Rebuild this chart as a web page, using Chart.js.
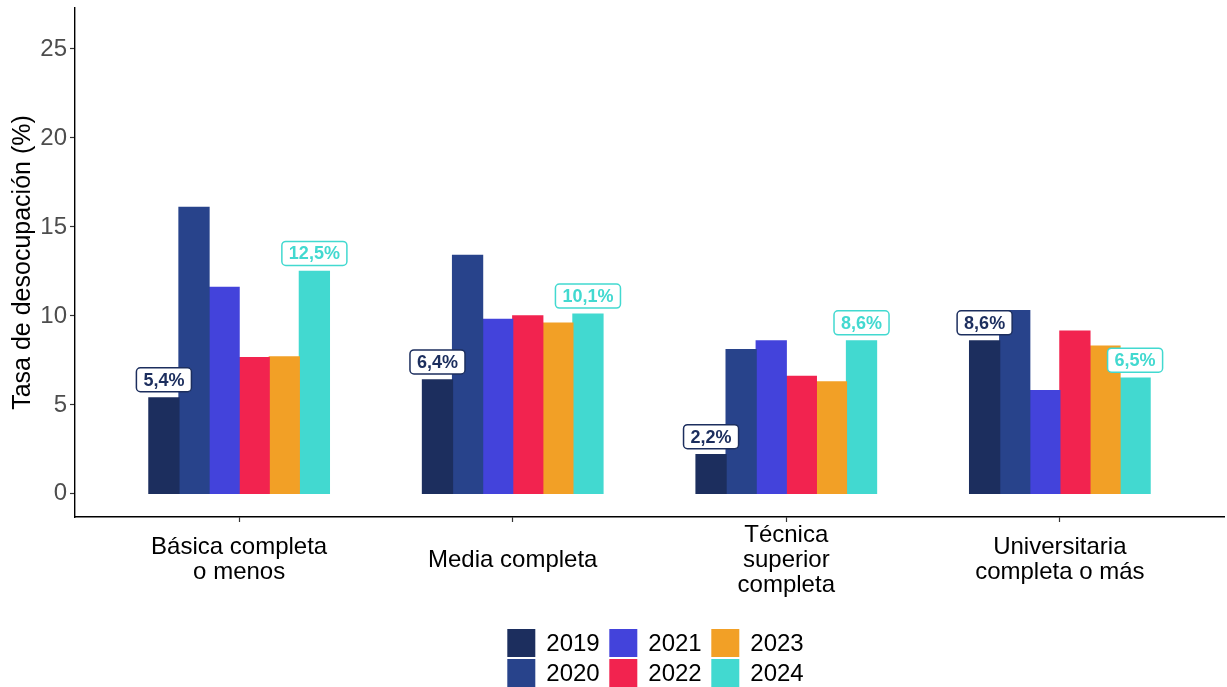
<!DOCTYPE html>
<html><head><meta charset="utf-8">
<script src="https://cdn.jsdelivr.net/npm/chart.js@4"></script>
<style>html,body{margin:0;padding:0;background:#fff;overflow:hidden;}</style>
</head><body>
<canvas id="c" width="1227" height="687"></canvas>
<script>
const categories = [["Básica completa","o menos"],["Media completa"],["Técnica","superior","completa"],["Universitaria","completa o más"]];
const years = ["2019","2020","2021","2022","2023","2024"];
const v2019 = [5.4, 6.4, 2.2, 8.6];
const v2020 = [16.1, 13.4, 8.1, 10.3];
const v2021 = [11.6, 9.8, 8.6, 5.8];
const v2022 = [7.65, 10.0, 6.6, 9.15];
const v2023 = [7.7, 9.6, 6.3, 8.3];
const v2024 = [12.5, 10.1, 8.6, 6.5];
const yTicks = [0, 5, 10, 15, 20, 25];
const labeledYears = ["2019", "2024"];

const seriesValues = [v2019, v2020, v2021, v2022, v2023, v2024];
const palette = ["#1c2e5e", "#28438b", "#4343db", "#f2234f", "#f2a026", "#42d9d0"];
const FONT = '"Liberation Sans", Arial, sans-serif';

const datasets = years.map((y, k) => ({
  label: y,
  data: seriesValues[k].map((v, i) => ({x: i + 1, y: v})),
  backgroundColor: palette[k],
  borderWidth: 0,
  inflateAmount: 0.6,
  categoryPercentage: 0.66,
  barPercentage: 1.0
}));

const valueLabels = {
  id: 'valueLabels',
  afterDatasetsDraw(chart) {
    const ctx = chart.ctx;
    chart.data.datasets.forEach((ds, di) => {
      if (!labeledYears.includes(ds.label)) return;
      const meta = chart.getDatasetMeta(di);
      ctx.save();
      ctx.font = 'bold 18px ' + FONT;
      meta.data.forEach((bar, i) => {
        const v = ds.data[i].y;
        const txt = v.toFixed(1).replace('.', ',') + '%';
        const tw = ctx.measureText(txt).width;
        const w = tw + 14, h = 24;
        const x = bar.x - w / 2, y = bar.y - 6 - h;
        ctx.beginPath();
        ctx.roundRect(x, y, w, h, 4);
        ctx.fillStyle = '#fff';
        ctx.fill();
        ctx.lineWidth = 1.5;
        ctx.strokeStyle = ds.backgroundColor;
        ctx.stroke();
        ctx.fillStyle = ds.backgroundColor;
        ctx.textAlign = 'center';
        ctx.textBaseline = 'middle';
        ctx.fillText(txt, bar.x, y + h / 2 + 1);
      });
      ctx.restore();
    });
  }
};

const gridLegend = {
  id: 'gridLegend',
  afterDraw(chart) {
    const ctx = chart.ctx;
    const ca = chart.chartArea;
    const box = 28, gap = 11, colPitch = 102, rowPitch = 30;
    ctx.save();
    ctx.font = '24px ' + FONT;
    const tw = ctx.measureText('2024').width;
    const total = 2 * colPitch + box + gap + tw;
    const x0 = (ca.left + ca.right) / 2 - total / 2 + 6;
    const y0 = 629;
    chart.data.datasets.forEach((ds, i) => {
      const col = Math.floor(i / 2), row = i % 2;
      const x = x0 + col * colPitch, y = y0 + row * rowPitch;
      ctx.fillStyle = ds.backgroundColor;
      ctx.fillRect(x, y, box, box);
      ctx.fillStyle = '#000';
      ctx.textAlign = 'left';
      ctx.textBaseline = 'middle';
      ctx.fillText(ds.label, x + box + gap, y + box / 2 + 1);
    });
    ctx.restore();
  }
};

new Chart(document.getElementById('c'), {
  type: 'bar',
  data: { datasets },
  options: {
    responsive: false,
    animation: false,
    layout: { padding: { top: 8, right: 3, bottom: 40, left: 0 } },
    plugins: { legend: { display: false }, tooltip: { enabled: false } },
    scales: {
      x: {
        type: 'linear',
        min: 0.4, max: 4.6,
        offset: false,
        afterBuildTicks: s => { s.ticks = categories.map((c, i) => ({ value: i + 1 })); },
        afterFit: s => { s.height = 130; s.paddingLeft = 0; s.paddingRight = 0; },
        ticks: {
          callback: (val, idx) => categories[idx],
          color: '#000',
          font: { family: FONT, size: 24, lineHeight: 1.04 },
          padding: 13,
          crossAlign: 'center',
          maxRotation: 0, autoSkip: false
        },
        grid: { display: true, offset: false, drawOnChartArea: false, drawTicks: true, tickLength: 5, tickColor: '#333', tickWidth: 1.2 },
        border: { display: true, color: '#000', width: 1.4 }
      },
      y: {
        min: -1.3, max: 27.3,
        afterBuildTicks: s => { s.ticks = yTicks.map(v => ({ value: v })); },
        afterFit: s => { s.width = 75; s.paddingTop = 0; s.paddingBottom = 0; },
        ticks: {
          color: '#4d4d4d',
          font: { family: FONT, size: 24 },
          padding: 3
        },
        title: {
          display: true,
          text: 'Tasa de desocupación (%)',
          color: '#000',
          font: { family: FONT, size: 25 },
          padding: { top: 8, bottom: 0 }
        },
        grid: { display: true, offset: false, drawOnChartArea: false, drawTicks: true, tickLength: 5, tickColor: '#333', tickWidth: 1.2 },
        border: { display: true, color: '#000', width: 1.4 }
      }
    }
  },
  plugins: [valueLabels, gridLegend]
});
</script>
</body></html>
